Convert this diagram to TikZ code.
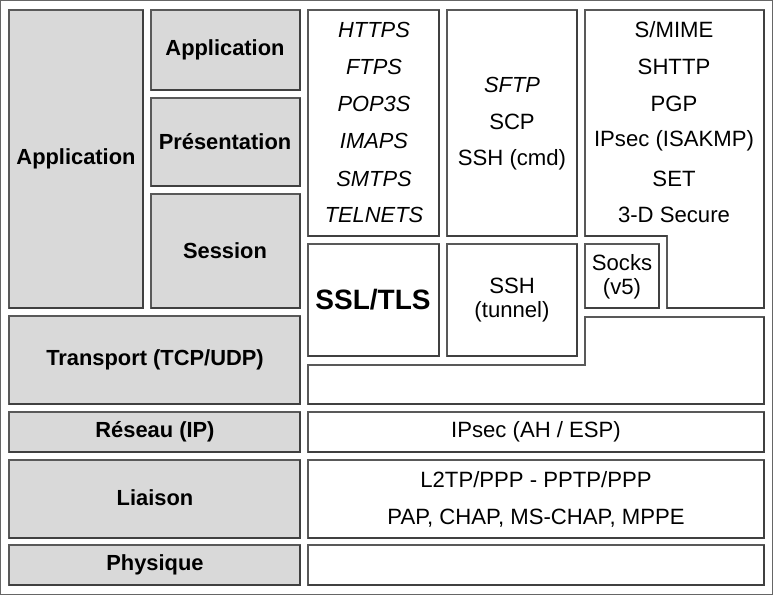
\documentclass[tikz,border=0pt]{standalone}
\usepackage{fontspec}
\setmainfont{Liberation Sans}
\begin{document}
\begin{tikzpicture}[x=0.75pt,y=-0.75pt,
  gbox/.style={fill=gray!30,draw=black!65,line width=0.8pt},
  wbox/.style={fill=white,draw=black!65,line width=0.8pt},
  lab/.style={font=\fontsize{16.4}{18}\selectfont\bfseries},
  txt/.style={font=\fontsize{16.6}{18}\selectfont},
  itx/.style={font=\fontsize{16.4}{18}\selectfont\itshape}]
\useasboundingbox (0,0) rectangle (773,595);
\draw[black!60,line width=1pt] (0.5,0.5) rectangle (772.5,594.5);
\newcommand{\bx}[5]{%
 \draw[#1] (#2,#3) rectangle (#4,#5);
 \draw[black!75,line width=1.8pt] (#4,#3) -- (#4,#5) -- (#2,#5);}
\bx{gbox}{9}{10}{143}{308}
\bx{gbox}{151}{10}{300}{90}
\bx{gbox}{151}{98}{300}{186}
\bx{gbox}{151}{194}{300}{308}
\bx{gbox}{9}{316}{300}{404}
\bx{gbox}{9}{412}{300}{452}
\bx{gbox}{9}{460}{300}{538}
\bx{gbox}{9}{545}{300}{585}
\bx{wbox}{308}{10}{439}{236}
\bx{wbox}{447}{10}{577}{236}
\bx{wbox}{308}{244}{439}{356}
\bx{wbox}{447}{244}{577}{356}
\bx{wbox}{585}{244}{659}{308}
\bx{wbox}{308}{412}{764}{452}
\bx{wbox}{308}{460}{764}{538}
\bx{wbox}{308}{545}{764}{585}
\draw[wbox] (585,10) -- (764,10) -- (764,308) -- (667,308) -- (667,236) -- (585,236) -- cycle;
\draw[black!75,line width=1.8pt] (764,10) -- (764,308) -- (667,308) (667,236) -- (585,236);
\draw[wbox] (308,365) -- (585,365) -- (585,317) -- (764,317) -- (764,404) -- (308,404) -- cycle;
\draw[black!75,line width=1.8pt] (764,317) -- (764,404) -- (308,404);
\node[lab] (a1) at (76,159) {Application};
\node[lab] (a2) at (225,50) {Application};
\node[lab] (p) at (225,142) {Présentation};
\node[lab] (s) at (225,251) {Session};
\node[lab] (t) at (155,360) {Transport (TCP/UDP)};
\node[lab] (r) at (155,432) {Réseau (IP)};
\node[lab] (l) at (155,498) {Liaison};
\node[lab] (ph) at (155,565) {Physique};
\node[itx] (h1) at (374,30) {HTTPS};
\node[itx] (h2) at (374,67) {FTPS};
\node[itx] (h3) at (374,104) {POP3S};
\node[itx] (h4) at (374,141) {IMAPS};
\node[itx] (h5) at (374,179) {SMTPS};
\node[itx] (h6) at (374,215) {TELNETS};
\node[itx] (f1) at (512,85) {SFTP};
\node[txt] (f2) at (512,122) {SCP};
\node[txt] (f3) at (512,160) {SSH (cmd)};
\node[txt] (m1) at (674,30) {S/MIME};
\node[txt] (m2) at (674,67) {SHTTP};
\node[txt] (m3) at (674,104) {PGP};
\node[txt] (m4) at (674,141) {IPsec (ISAKMP)};
\node[txt] (m5) at (674,179) {SET};
\node[txt] (m6) at (674,215) {3-D Secure};
\node[font=\fontsize{21}{24}\selectfont\bfseries] (ssl) at (373,300) {SSL/TLS};
\node[txt,align=center] (ssh) at (512,300) {SSH\\(tunnel)};
\node[txt,align=center] (sk) at (622,277) {Socks\\(v5)};
\node[txt] (ip) at (536,432) {IPsec (AH / ESP)};
\node[txt] (l1) at (536,480) {L2TP/PPP - PPTP/PPP};
\node[txt] (l2) at (536,518) {PAP, CHAP, MS-CHAP, MPPE};
\end{tikzpicture}
\end{document}
